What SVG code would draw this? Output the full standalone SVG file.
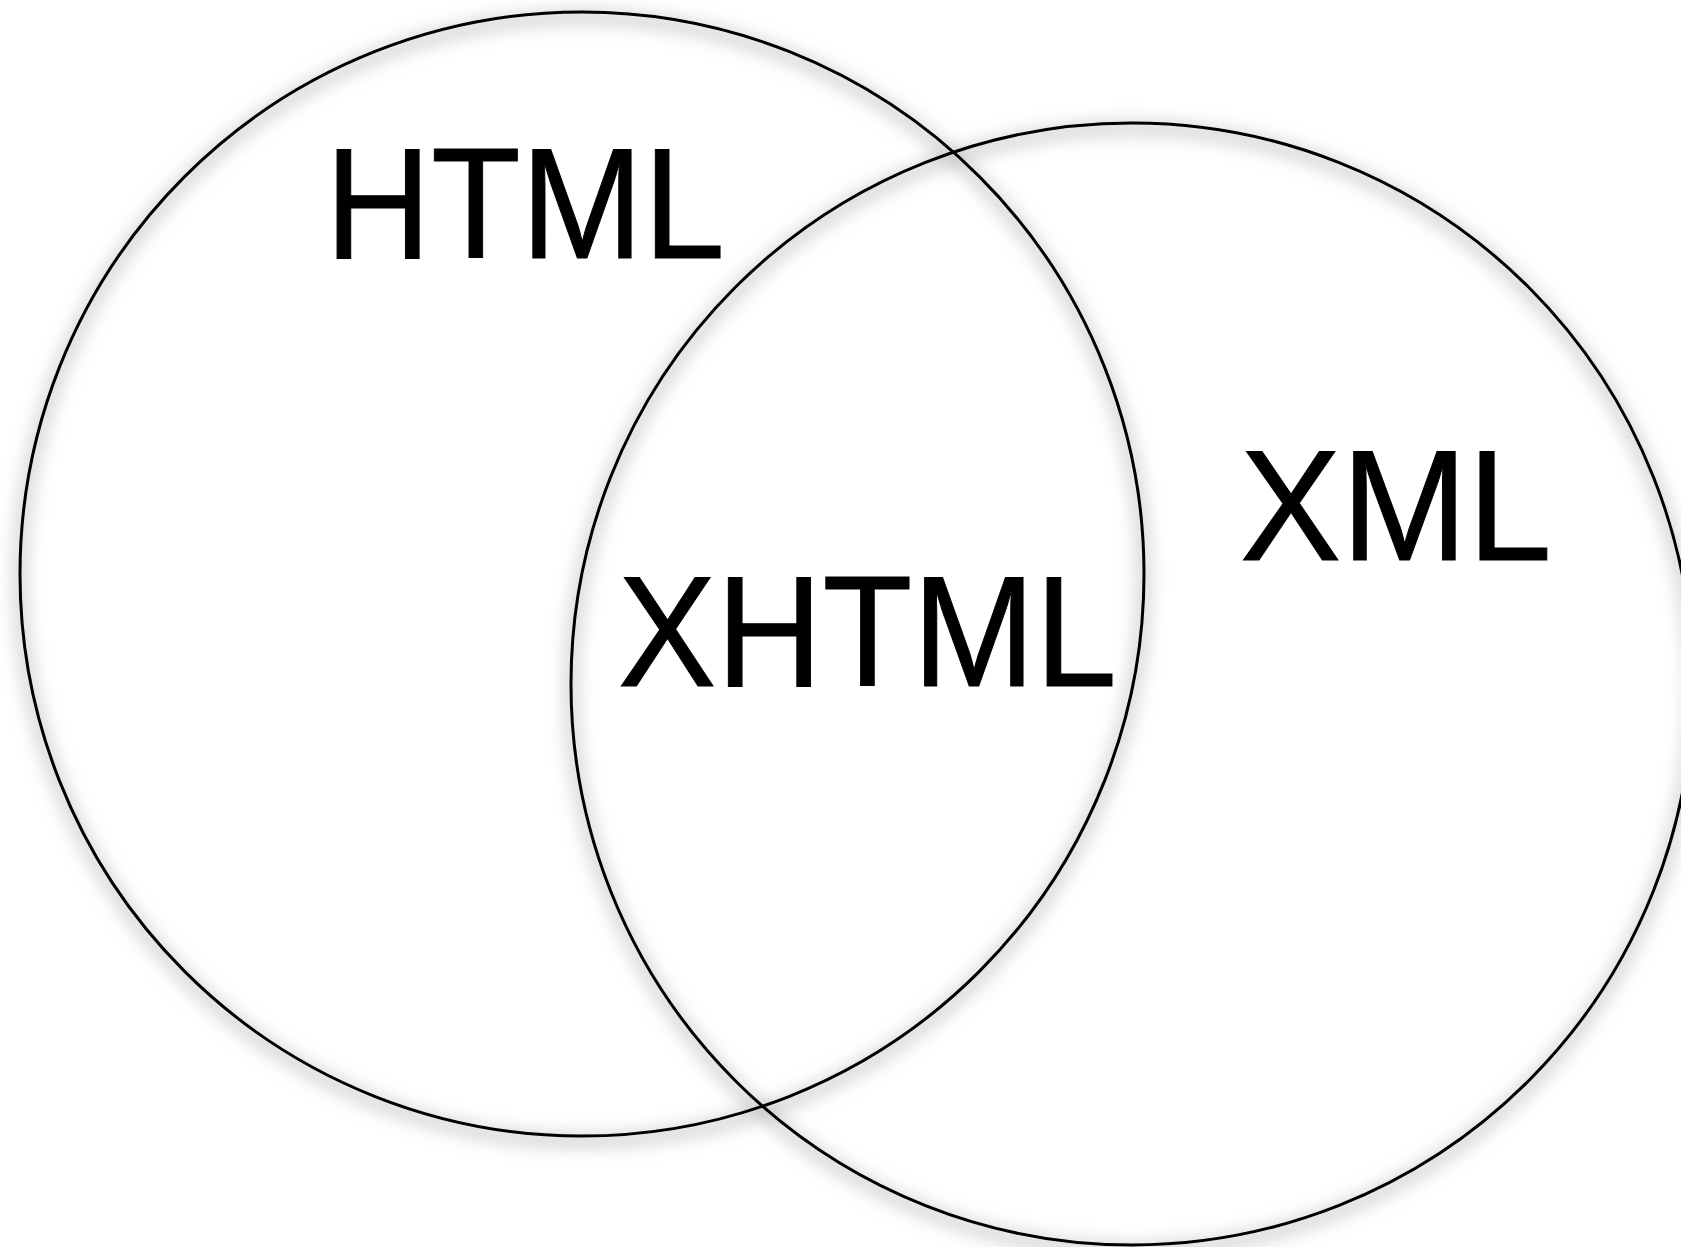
<svg xmlns="http://www.w3.org/2000/svg" width="1681" height="1247" viewBox="0 0 1681 1247">
<style>
.ring{fill:none;stroke:#000;stroke-width:3}
.shadow{fill:none;stroke:#999;stroke-width:10;opacity:0.6}
.lbl{font-family:"Liberation Sans",Arial,sans-serif;font-size:158px;fill:#000;stroke:#000;stroke-width:1}
</style>
<defs>
<filter id="soft" x="-20%" y="-20%" width="140%" height="140%">
<feGaussianBlur stdDeviation="9"/>
<feOffset dx="0" dy="5"/>
</filter>
</defs>
<rect width="1681" height="1247" fill="#fff"/>
<g id="shadows" filter="url(#soft)">
<circle class="shadow" cx="582" cy="574" r="562"/>
<circle class="shadow" cx="1132" cy="684" r="561"/>
</g>
<g id="html">
<circle class="ring" cx="582" cy="574" r="562"/>
<text class="lbl" x="325" y="258" textLength="400" lengthAdjust="spacingAndGlyphs">HTML</text>
</g>
<g id="xml">
<circle class="ring" cx="1132" cy="684" r="561"/>
<text class="lbl" x="1240" y="560" textLength="312" lengthAdjust="spacingAndGlyphs">XML</text>
</g>
<g id="xhtml">
<text class="lbl" x="618" y="686" textLength="499" lengthAdjust="spacingAndGlyphs">XHTML</text>
</g>
<g id="connectors"></g>
</svg>
